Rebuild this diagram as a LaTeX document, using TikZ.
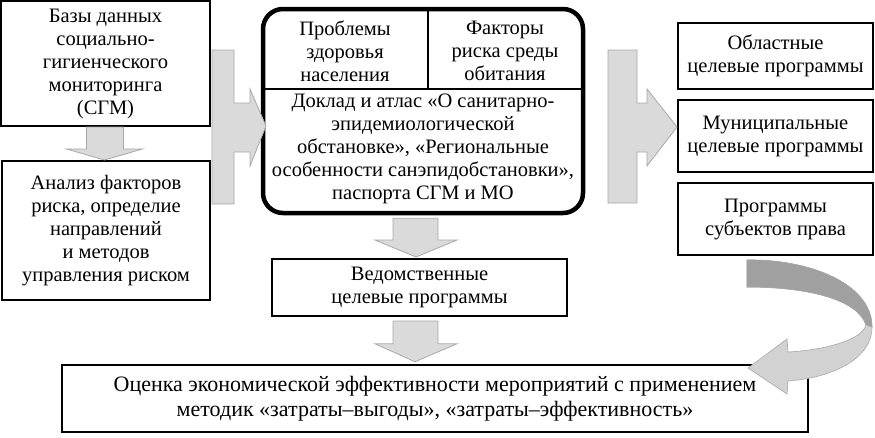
\documentclass[tikz,border=0pt]{standalone}
\usepackage{fontspec}
\setmainfont{Liberation Serif}
\usetikzlibrary{calc}
\definecolor{fatfill}{HTML}{DADADA}
\definecolor{fatline}{HTML}{A8A8A8}
\definecolor{curvedark}{HTML}{A0A0A0}
\definecolor{curvelight}{HTML}{D2D2D2}
\begin{document}
\begin{tikzpicture}[x=1pt,y=-1pt,
  txt/.style={font=\rmfamily\fontsize{20.5}{23}\selectfont, align=center, inner sep=0pt},
  box/.style={txt, draw=black, line width=2pt},
  fat/.style={fill=fatfill, draw=fatline, line width=0.8pt, line join=miter},
]
\useasboundingbox (0,0) rectangle (875,437);

% boxes
\node[box, minimum width=209, minimum height=125] (sgm) at (105.5,63.5)
  {Базы данных\\социально-\\гигиенческого\\мониторинга\\(СГМ)};
\node[box, minimum width=208, minimum height=139] (ana) at (106,230.5)
  {Анализ факторов\\риска, определие\\направлений\\и методов\\управления риском};
\node[draw=black, line width=4.5pt, rounded corners=20pt, minimum width=320, minimum height=204, inner sep=0pt] (cen) at (423,111) {};
\coordinate (hl) at (0,89);
\coordinate (vl) at (428,89);
\draw[line width=2pt] (hl -| cen.west) -- (hl -| cen.east);
\draw[line width=2pt] (vl) -- (vl |- cen.north);
\node[txt] (prob) at (345,51) {Проблемы\\здоровья\\населения};
\node[txt] (fact) at (505,51) {Факторы\\риска среды\\обитания};
\node[txt] (doc) at (423,149) {Доклад и атлас «О санитарно-\\эпидемиологической\\обстановке», «Региональные\\особенности санэпидобстановки»,\\паспорта СГМ и МО};
\node[box, minimum width=295, minimum height=57] (ved) at (419.5,287.5)
  {Ведомственные\\целевые программы};
\node[box, minimum width=195, minimum height=66] (obl) at (775.5,56)
  {Областные\\целевые программы};
\node[box, minimum width=195, minimum height=72] (mun) at (775.5,136)
  {Муниципальные\\целевые программы};
\node[box, minimum width=195, minimum height=72] (sub) at (775.5,219)
  {Программы\\субъектов права};
\node[box, font=\rmfamily\fontsize{22}{25}\selectfont, line width=2.5pt, minimum width=746, minimum height=67] (bot) at (435,398.5)
  {Оценка экономической эффективности мероприятий с применением\\методик «затраты–выгоды», «затраты–эффективность»};

% fat down arrows
\path[fat] let \p1=(sgm.south), \p2=(ana.north) in
  (\x1-19pt,\y1) -- (\x1+18pt,\y1) -- (\x1+18pt,\y2+11pt) -- (\x1+37pt,\y2+11pt)
  -- (\x1-1pt,\y2) -- (\x1-39pt,\y2+11pt) -- (\x1-19pt,\y2+11pt) -- cycle;
\path[fat] let \p1=(cen.south), \p2=(ved.north) in
  (\x2-26.5pt,\y1-3pt) -- (\x2+18.5pt,\y1-3pt) -- (\x2+18.5pt,\y2+18pt) -- (\x2+37.5pt,\y2+18pt)
  -- (\x2-3.5pt,\y2+1pt) -- (\x2-44.5pt,\y2+18pt) -- (\x2-26.5pt,\y2+18pt) -- cycle;
\path[fat] let \p1=(ved.south), \p2=(bot.north) in
  (\x1-26.5pt,\y1-4pt) -- (\x1+18.5pt,\y1-4pt) -- (\x1+18.5pt,\y2+20pt) -- (\x1+37.5pt,\y2+20pt)
  -- (\x1-4.5pt,\y2+2pt) -- (\x1-44.5pt,\y2+20pt) -- (\x1-26.5pt,\y2+20pt) -- cycle;

% bracket arrows
\path[fat] (212,50) -- (234,50) -- (234,103) -- (250,103) -- (250,89) -- (266,126)
  -- (250,166) -- (250,152) -- (234,152) -- (234,204) -- (212,204) -- cycle;
\path[fat] (608,50) -- (637,50) -- (637,103) -- (647,103) -- (647,89) -- (677,127)
  -- (647,166) -- (647,152) -- (637,152) -- (637,203) -- (608,203) -- cycle;

% curved arrow
\path[fill=curvelight, draw=fatline, line width=0.6pt]
  (747,260) .. controls (808,259) and (872,283) .. (872,327)
  .. controls (872,360) and (830,378) .. (788,381)
  -- (787,394) -- (748,368) -- (787,339) -- (788,352)
  .. controls (825,350) and (862,340) .. (866,325)
  .. controls (858,300) and (810,287) .. (747,287) -- cycle;
\path[fill=curvedark, draw=fatline, line width=0.6pt]
  (747,260) .. controls (808,259) and (872,283) .. (872,327)
  -- (866,325) .. controls (858,300) and (810,287) .. (747,287) -- cycle;
\end{tikzpicture}
\end{document}
